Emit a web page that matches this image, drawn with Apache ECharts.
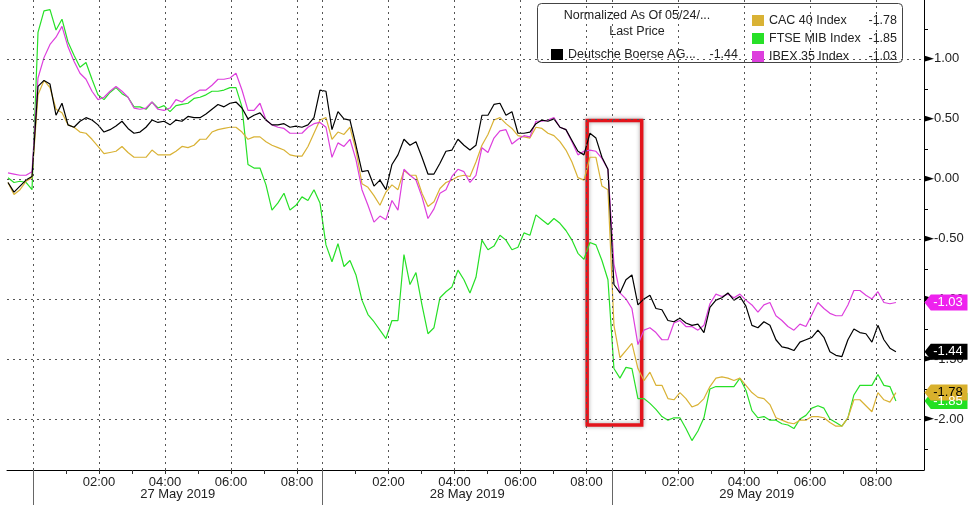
<!DOCTYPE html>
<html><head><meta charset="utf-8">
<script src="https://cdn.jsdelivr.net/npm/echarts@6/dist/echarts.min.js"></script>
<style>html,body{margin:0;padding:0;background:#fff}#c{width:976px;height:505px}</style>
</head><body><div id="c"></div>
<script>
// Compressed intraday axis: hours since 27 May 00:00; each session day spans DAY hours.
const DAY = 8.7727;
const START = -0.7576;   // first sample (24 May close)
const STEP = 0.1818;     // sampling step in hours
const dayLabels = ['27 May 2019', '28 May 2019', '29 May 2019'];
const hourLabels = [2, 4, 6, 8];
const yTickValues = [-2, -1.5, -1, -0.5, 0, 0.5, 1];
const yMinorValues = [-2.25, -1.75, -1.25, -0.75, -0.25, 0.25, 0.75, 1.25];

const deutsche = [-0.03,-0.11,-0.06,-0.01,0.02,0.77,0.82,0.79,0.53,0.63,
 0.45,0.43,0.48,0.51,0.49,0.45,0.39,0.41,0.44,0.48,
 0.42,0.38,0.39,0.43,0.49,0.47,0.48,0.45,0.49,0.48,
 0.52,0.51,0.51,0.54,0.58,0.62,0.60,0.63,0.64,0.59,
 0.50,0.53,0.55,0.49,0.45,0.45,0.46,0.43,0.44,0.43,
 0.45,0.51,0.74,0.73,0.41,0.56,0.50,0.49,0.28,0.06,
 0.07,-0.06,-0.01,-0.09,0.12,0.20,0.33,0.28,0.31,0.18,
 0.04,0.04,0.13,0.23,0.24,0.33,0.28,0.24,0.28,0.53,
 0.53,0.62,0.63,0.53,0.56,0.38,0.38,0.39,0.46,0.49,
 0.48,0.50,0.43,0.41,0.32,0.23,0.20,0.38,0.34,0.18,
 0.08,-0.88,-0.95,-0.84,-0.80,-1.05,-1.00,-0.97,-1.08,-1.09,
 -1.18,-1.19,-1.16,-1.20,-1.22,-1.21,-1.28,-1.07,-1.01,-0.99,
 -0.95,-1.01,-0.98,-1.06,-1.22,-1.24,-1.19,-1.22,-1.34,-1.40,
 -1.41,-1.43,-1.36,-1.34,-1.32,-1.26,-1.32,-1.44,-1.47,-1.48,
 -1.34,-1.25,-1.28,-1.29,-1.36,-1.22,-1.34,-1.41,-1.44];

const ibex = [0.05,0.04,0.03,0.03,0.06,0.84,1.01,1.12,1.18,1.27,
 1.10,0.98,0.88,0.83,0.73,0.66,0.68,0.73,0.77,0.73,
 0.68,0.59,0.58,0.59,0.64,0.58,0.57,0.59,0.66,0.64,
 0.68,0.71,0.74,0.74,0.78,0.83,0.83,0.84,0.88,0.74,
 0.57,0.57,0.63,0.49,0.45,0.43,0.42,0.38,0.38,0.38,
 0.43,0.46,0.47,0.43,0.18,0.30,0.27,0.33,0.16,-0.09,
 -0.22,-0.36,-0.31,-0.34,-0.18,-0.26,0.08,0.03,-0.01,-0.15,
 -0.33,-0.25,-0.12,-0.09,0.02,0.08,0.06,-0.03,0.03,0.26,
 0.22,0.34,0.40,0.41,0.29,0.33,0.36,0.35,0.48,0.48,
 0.49,0.51,0.43,0.41,0.31,0.20,0.23,0.24,0.23,0.17,
 0.08,-0.71,-0.95,-1.00,-1.08,-1.38,-1.26,-1.24,-1.28,-1.34,
 -1.34,-1.20,-1.18,-1.23,-1.23,-1.26,-1.22,-1.04,-0.96,-0.98,
 -0.96,-0.99,-0.96,-1.01,-1.05,-1.11,-1.05,-1.03,-1.14,-1.18,
 -1.23,-1.26,-1.21,-1.23,-1.13,-1.03,-1.08,-1.12,-1.14,-1.14,
 -1.05,-0.93,-0.93,-0.97,-1.00,-0.94,-1.03,-1.04,-1.03];

const ftse = [0.01,-0.03,-0.02,-0.03,-0.09,1.22,1.40,1.41,1.24,1.33,
 1.14,1.03,0.93,0.97,0.83,0.70,0.66,0.72,0.76,0.71,
 0.68,0.60,0.60,0.58,0.64,0.59,0.61,0.56,0.61,0.62,
 0.63,0.67,0.68,0.70,0.73,0.73,0.74,0.76,0.76,0.60,
 0.12,0.09,0.09,-0.05,-0.26,-0.20,-0.12,-0.26,-0.22,-0.15,
 -0.18,-0.09,-0.20,-0.55,-0.69,-0.54,-0.73,-0.68,-0.80,-1.01,
 -1.13,-1.19,-1.26,-1.33,-1.18,-1.18,-0.63,-0.88,-0.78,-1.05,
 -1.29,-1.24,-0.99,-0.94,-0.90,-0.76,-0.84,-0.95,-0.82,-0.51,
 -0.59,-0.56,-0.47,-0.51,-0.59,-0.57,-0.45,-0.47,-0.30,-0.34,
 -0.38,-0.33,-0.37,-0.43,-0.51,-0.62,-0.67,-0.53,-0.55,-0.68,
 -0.84,-1.58,-1.66,-1.57,-1.58,-1.83,-1.83,-1.87,-1.92,-1.98,
 -2.01,-1.99,-1.99,-2.08,-2.18,-2.10,-1.99,-1.75,-1.73,-1.73,
 -1.73,-1.73,-1.66,-1.76,-1.93,-1.99,-1.98,-2.01,-2.01,-2.04,
 -2.05,-2.08,-2.00,-1.97,-1.91,-1.89,-1.91,-2.00,-2.03,-2.06,
 -1.99,-1.80,-1.72,-1.72,-1.72,-1.63,-1.72,-1.73,-1.85];

const cac = [-0.03,-0.13,-0.09,-0.02,0.01,0.70,0.82,0.76,0.58,0.55,
 0.45,0.43,0.39,0.38,0.33,0.27,0.21,0.22,0.23,0.27,
 0.22,0.18,0.18,0.18,0.24,0.20,0.20,0.20,0.23,0.27,
 0.26,0.28,0.33,0.33,0.39,0.41,0.42,0.43,0.43,0.39,
 0.33,0.35,0.35,0.31,0.28,0.26,0.24,0.20,0.19,0.19,
 0.27,0.38,0.49,0.51,0.33,0.39,0.37,0.43,0.24,-0.04,
 -0.07,-0.14,-0.22,-0.11,-0.05,-0.09,0.07,0.03,0.03,-0.12,
 -0.23,-0.19,-0.08,-0.03,-0.01,0.02,0.03,0.02,0.14,0.28,
 0.37,0.49,0.51,0.46,0.42,0.36,0.35,0.34,0.43,0.42,
 0.38,0.36,0.31,0.24,0.14,0.01,-0.01,0.18,0.18,-0.06,
 -0.09,-1.22,-1.49,-1.43,-1.37,-1.58,-1.68,-1.61,-1.72,-1.72,
 -1.83,-1.84,-1.78,-1.83,-1.90,-1.88,-1.83,-1.73,-1.66,-1.65,
 -1.66,-1.68,-1.66,-1.72,-1.78,-1.82,-1.83,-1.88,-1.99,-2.01,
 -2.03,-2.04,-2.01,-2.01,-1.98,-1.98,-1.99,-2.03,-2.06,-2.06,
 -1.99,-1.84,-1.84,-1.89,-1.94,-1.78,-1.84,-1.86,-1.78];

// highlighted window (28 May 08:00 -> 29 May ~00:56), value range
const highlightTimes = [DAY + 8.02, 2 * DAY + 0.9];
const highlightValues = [0.487, -2.05];

const XMIN = -0.788, XMAX = 27.0, YMIN = -2.425, YMAX = 1.49;
const AXF = "'Liberation Sans',Arial,sans-serif";
const LGF = "'Liberation Sans',Arial,sans-serif";

const last = a => a[a.length - 1];
const fmt = v => v.toFixed(2);
const pts = a => a.map((v, i) => [START + i * STEP, v]);

const vGrid = [], hourTicks = [], labelTicks = [], dayStarts = [], dayCenters = [];
for (let d = 0; d < 3; d++) {
  dayStarts.push(d * DAY);
  dayCenters.push(d * DAY + DAY / 2);
  vGrid.push(d * DAY);
  for (let h = 1; h <= 8; h++) hourTicks.push(d * DAY + h);
  hourLabels.forEach(h => { vGrid.push(d * DAY + h); labelTicks.push(d * DAY + h); });
}

const tagPath = 'path://M0,8L7,0L48,0L48,16L7,16Z';
function lineSeries(name, arr, color, tagColor, tagText, z) {
  return {
    name, type: 'line', data: pts(arr), showSymbol: false, symbol: 'none', clip: false,
    color, lineStyle: { color, width: 1.2 }, z,
    emphasis: { disabled: true },
    markPoint: {
      silent: true, symbol: tagPath, symbolSize: [43, 16], symbolKeepAspect: false, symbolOffset: [22, 0],
      itemStyle: { color: tagColor },
      label: { show: true, position: 'inside', offset: [2, 0], color: tagText, fontSize: 13, fontFamily: AXF,
        formatter: p => fmt(p.value) },
      data: [{ coord: [XMAX, last(arr)], value: last(arr) }]
    }
  };
}

const lastByName = {
  'CAC 40 Index': last(cac), 'FTSE MIB Index': last(ftse), 'IBEX 35 Index': last(ibex)
};

const chart = echarts.init(document.getElementById('c'));
chart.setOption({
  animation: false,
  backgroundColor: '#fff',
  grid: { left: 7, right: 52, top: 0, bottom: 35, containLabel: false },
  xAxis: [
    { type: 'value', min: XMIN, max: XMAX, position: 'bottom',
      axisLine: { show: true, onZero: false, lineStyle: { color: '#000', width: 1 } },
      axisTick: { show: true, customValues: hourTicks, length: 4, lineStyle: { color: '#333' } },
      axisLabel: { customValues: labelTicks, margin: 6, color: '#222', fontSize: 13, fontFamily: AXF,
        formatter: v => { const d = Math.floor((v + 0.01) / DAY); const h = Math.round(v - d * DAY); return '0' + h + ':00'; } },
      splitLine: { show: false } },
    { type: 'value', min: XMIN, max: XMAX, position: 'bottom',
      axisLine: { show: false, onZero: false },
      axisTick: { show: true, customValues: dayStarts, length: 36, lineStyle: { color: '#666' } },
      axisLabel: { customValues: dayCenters, margin: 18, color: '#222', fontSize: 13, fontFamily: AXF,
        formatter: v => dayLabels[Math.floor(v / DAY)] },
      splitLine: { show: false } }
  ],
  yAxis: { type: 'value', min: YMIN, max: YMAX, position: 'right',
    axisLine: { show: true, onZero: false, lineStyle: { color: '#000', width: 1 } },
    axisTick: { show: true, customValues: yMinorValues, length: 4, lineStyle: { color: '#000' } },
    axisLabel: { customValues: yTickValues, margin: 0,
      formatter: v => '{t|►}{v|' + fmt(v) + '}',
      rich: { t: { fontSize: 13, color: '#000', fontFamily: "'DejaVu Sans',sans-serif" },
              v: { fontSize: 13, color: '#222', fontFamily: AXF } } },
    splitLine: { show: false } },
  legend: [
    { data: ['Deutsche Boerse AG'], left: 546, top: 43, icon: 'rect', itemWidth: 12, itemHeight: 11,
      selectedMode: false, z: 6,
      formatter: n => '{n|' + n + '...}{v|' + fmt(last(deutsche)) + '}',
      textStyle: { rich: { n: { width: 138, fontSize: 12.5, fontFamily: LGF, color: '#222' },
                           v: { width: 32, align: 'right', fontSize: 12.5, fontFamily: LGF, color: '#222' } } } },
    { data: ['CAC 40 Index', 'FTSE MIB Index', 'IBEX 35 Index'], orient: 'vertical', left: 747, top: 9,
      itemGap: 5, icon: 'rect', itemWidth: 12, itemHeight: 11, selectedMode: false, z: 6,
      formatter: n => '{n|' + n + '}{v|' + fmt(lastByName[n]) + '}',
      textStyle: { rich: { n: { width: 96, fontSize: 12.5, fontFamily: LGF, color: '#222' },
                           v: { width: 32, align: 'right', fontSize: 12.5, fontFamily: LGF, color: '#222' } } } }
  ],
  graphic: [
    { type: 'rect', left: 537, top: 3, z: 5, shape: { width: 365, height: 59, r: 4 },
      style: { fill: '#fff', stroke: '#444', lineWidth: 1 } },
    { type: 'text', x: 637, y: 16, z: 6, style: { text: 'Normalized As Of 05/24/...', align: 'center', verticalAlign: 'middle',
      fontSize: 12.5, fontFamily: LGF, fill: '#222' } },
    { type: 'text', x: 637, y: 32, z: 6, style: { text: 'Last Price', align: 'center', verticalAlign: 'middle',
      fontSize: 12.5, fontFamily: LGF, fill: '#222' } }
  ],
  series: [
    { type: 'line', data: [], z: 1, silent: true,
      markLine: { silent: true, symbol: 'none', label: { show: false },
        lineStyle: { color: '#555', type: [2, 4], width: 1 }, emphasis: { disabled: true },
        data: vGrid.map(v => ({ xAxis: v })).concat(yTickValues.map(v => ({ yAxis: v }))) } },
    lineSeries('FTSE MIB Index', ftse, '#27e027', '#22e022', '#fff', 2),
    lineSeries('CAC 40 Index', cac, '#d9b235', '#d8b02c', '#000', 3),
    lineSeries('IBEX 35 Index', ibex, '#dd3fdd', '#ee22ee', '#fff', 3),
    lineSeries('Deutsche Boerse AG', deutsche, '#000000', '#000000', '#fff', 4),
    { type: 'line', data: [], z: 5, silent: true,
      markArea: { silent: true,
        itemStyle: { color: 'rgba(0,0,0,0)', borderColor: '#e3141c', borderWidth: 3.5,
          shadowBlur: 4, shadowColor: 'rgba(0,0,0,0.35)' },
        data: [[{ coord: [highlightTimes[0], highlightValues[0]] }, { coord: [highlightTimes[1], highlightValues[1]] }]] } }
  ]
});
</script></body></html>
